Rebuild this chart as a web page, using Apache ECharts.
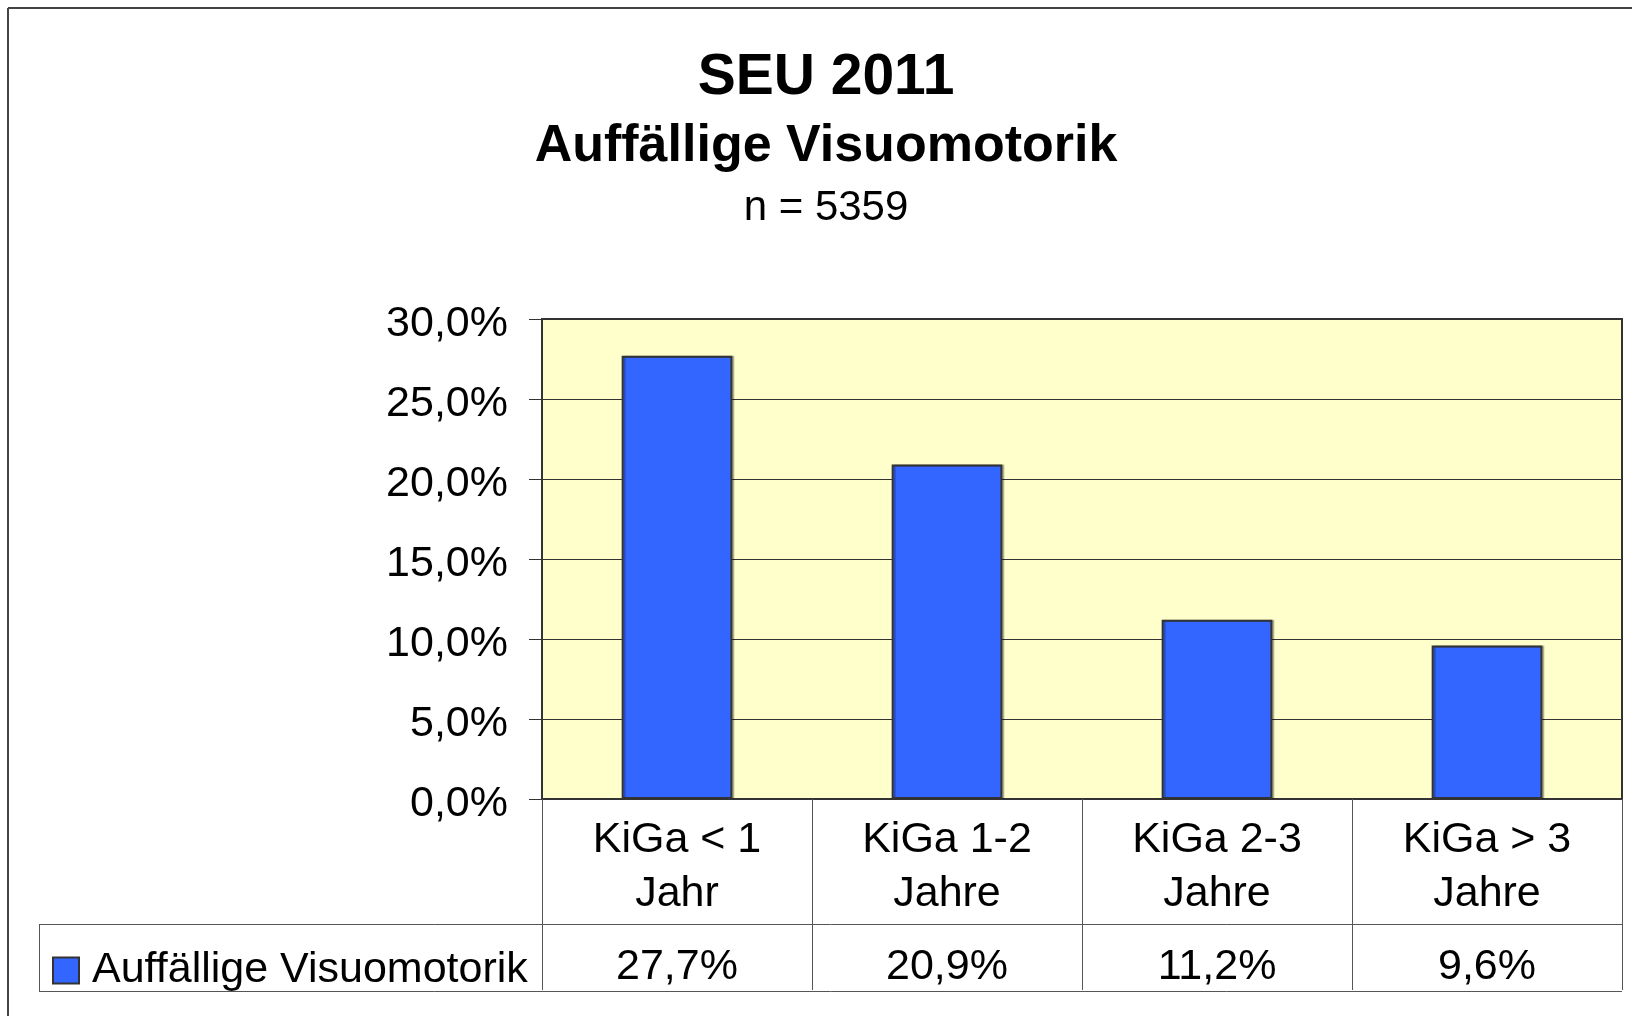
<!DOCTYPE html>
<html>
<head>
<meta charset="utf-8">
<script src="https://cdn.jsdelivr.net/npm/echarts@6/dist/echarts.min.js"></script>
<style>
  html, body { margin: 0; padding: 0; background: #fff; }
  #main { width: 1632px; height: 1016px; }
</style>
</head>
<body>
<div id="main"></div>
<script>
  // Daten aus der Grafik
  var categories = ["KiGa < 1\nJahr", "KiGa 1-2\nJahre", "KiGa 2-3\nJahre", "KiGa > 3\nJahre"];
  var seriesName = "Auffällige Visuomotorik";
  var values = [27.7, 20.9, 11.2, 9.6];
  var yMin = 0, yMax = 30, yStep = 5;

  var font = "'Liberation Sans', Arial, sans-serif";
  var lineCol = "#333";

  function pct(v) {
    return v.toFixed(1).replace(".", ",") + "%";
  }

  var chart = echarts.init(document.getElementById("main"));

  chart.setOption({
    animation: false,
    backgroundColor: "#fff",
    textStyle: { fontFamily: font },
    title: [
      {
        text: "SEU 2011", left: 826, top: 50, padding: 0, textAlign: "center",
        textStyle: { fontFamily: font, fontSize: 57, fontWeight: "bold", color: "#000", lineHeight: 57 }
      },
      {
        text: "Auffällige Visuomotorik", left: 826, top: 121, padding: 0, textAlign: "center",
        textStyle: { fontFamily: font, fontSize: 52, fontWeight: "bold", color: "#000", lineHeight: 52 }
      },
      {
        text: "n = 5359", left: 826, top: 187, padding: 0, textAlign: "center",
        textStyle: { fontFamily: font, fontSize: 42, fontWeight: "normal", color: "#000", lineHeight: 42 }
      }
    ],
    legend: {
      data: [seriesName],
      left: 52, top: 949, padding: 0,
      icon: "rect", itemWidth: 26, itemHeight: 26,
      itemStyle: { borderColor: lineCol, borderWidth: 2, shadowColor: "transparent" },
      textStyle: { fontFamily: font, fontSize: 43, color: "#000", lineHeight: 43, padding: [0, 0, 0, 8] }
    },
    grid: {
      left: 542, top: 319, right: 10, bottom: 217,
      show: true, backgroundColor: "#FFFFCC", borderColor: lineCol, borderWidth: 2
    },
    xAxis: [
      {
        type: "category",
        data: categories,
        position: "bottom",
        axisLine: { show: true, lineStyle: { color: lineCol, width: 2 } },
        axisTick: { show: true, length: 191, lineStyle: { color: "#555", width: 1 } },
        axisLabel: { fontFamily: font, fontSize: 43, lineHeight: 54, margin: 14, color: "#000" }
      },
      {
        // Wertezeile der Datentabelle
        type: "category",
        data: values.map(pct),
        position: "bottom",
        axisLine: { show: false },
        axisTick: { show: false },
        axisLabel: { fontFamily: font, fontSize: 43, lineHeight: 43, margin: 147, color: "#000" }
      }
    ],
    yAxis: {
      type: "value",
      min: yMin, max: yMax, interval: yStep,
      axisLine: { show: true, lineStyle: { color: lineCol, width: 2 } },
      axisTick: { show: true, length: 13, lineStyle: { color: lineCol, width: 1 } },
      // Beschriftung leicht unterhalb der Teilstriche wie im Original
      axisLabel: {
        fontFamily: font, fontSize: 43, margin: 34, color: "#000",
        verticalAlign: "top", lineHeight: 10, formatter: pct
      },
      splitLine: { show: true, lineStyle: { color: lineCol, width: 1 } }
    },
    series: [
      {
        name: seriesName,
        type: "bar",
        data: values,
        barWidth: "41%",
        itemStyle: {
          color: "#3366FF",
          borderColor: lineCol,
          borderWidth: 2,
          shadowColor: "rgba(0,0,0,0.25)",
          shadowOffsetX: 2,
          shadowOffsetY: 0,
          shadowBlur: 0
        }
      }
    ],
    graphic: [
      // äußerer Rahmen (rechts/unten abgeschnitten)
      { type: "line", shape: { x1: 8, y1: 8, x2: 1632, y2: 8 }, style: { stroke: "#444", lineWidth: 2 } },
      { type: "line", shape: { x1: 8, y1: 8, x2: 8, y2: 1016 }, style: { stroke: "#444", lineWidth: 2 } },
      // Datentabelle
      { type: "line", shape: { x1: 39, y1: 924.5, x2: 1622, y2: 924.5 }, style: { stroke: "#555", lineWidth: 1 } },
      { type: "line", shape: { x1: 39, y1: 991.5, x2: 1622, y2: 991.5 }, style: { stroke: "#555", lineWidth: 1 } },
      { type: "line", shape: { x1: 39.5, y1: 924, x2: 39.5, y2: 992 }, style: { stroke: "#555", lineWidth: 1 } }
    ]
  });
</script>
</body>
</html>
